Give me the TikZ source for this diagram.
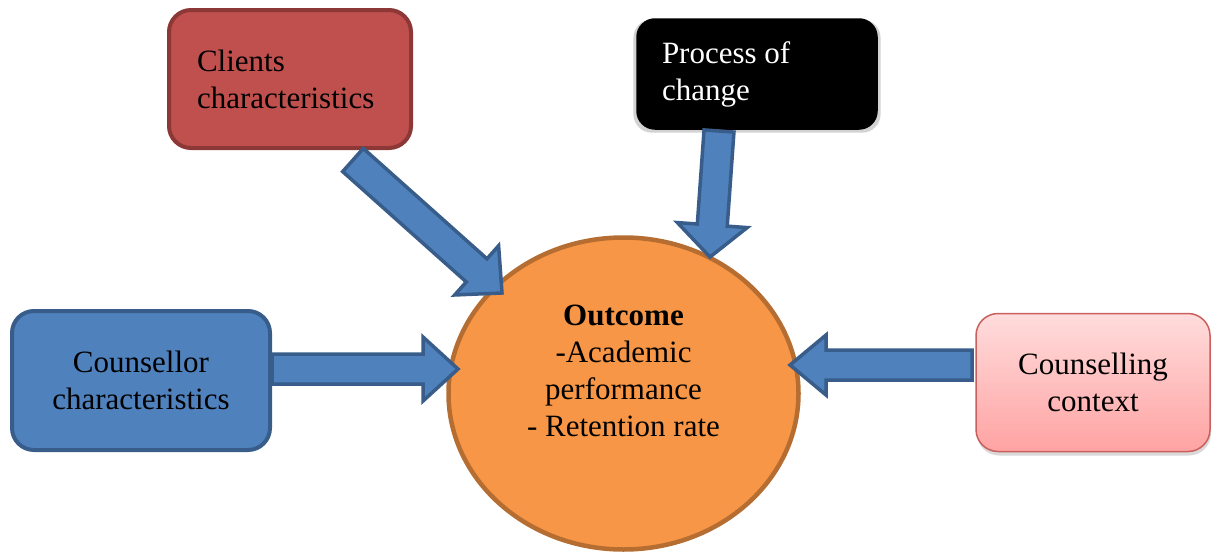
\documentclass[tikz,border=0pt]{standalone}
\usepackage{fontspec}
\setmainfont{Liberation Serif}
\usetikzlibrary{calc,shapes.geometric,shadows}

\definecolor{accblue}{HTML}{4F81BD}
\definecolor{accblueline}{HTML}{385D8A}
\definecolor{accred}{HTML}{C0504D}
\definecolor{accredline}{HTML}{8C3836}
\definecolor{accorange}{HTML}{F79646}
\definecolor{accorangeline}{HTML}{B66D31}
\definecolor{pinktop}{HTML}{FFDCDC}
\definecolor{pinkbottom}{HTML}{FFA3A3}
\definecolor{pinkline}{HTML}{C9605D}

% block arrow: #1 start, #2 tip, #3 half shaft width, #4 half head width, #5 head length
\newcommand\blockarr[5]{%
  \coordinate (#1-base) at ($(#2)!#5!(#1)$);
  \draw[fatarrow]
    ($(#1)!#3!90:(#2)$) -- ($(#1-base)!#3!90:(#2)$) -- ($(#1-base)!#4!90:(#2)$)
    -- (#2)
    -- ($(#1-base)!#4!-90:(#2)$) -- ($(#1-base)!#3!-90:(#2)$) -- ($(#1)!#3!-90:(#2)$)
    -- cycle;}

\begin{document}
\begin{tikzpicture}[x=1pt, y=-1pt,
  every node/.style={font=\fontsize{31}{37}\selectfont, inner sep=0pt},
  card/.style={rectangle, rounded corners=22pt, line width=4pt},
  fatarrow/.style={fill=accblue, draw=accblueline, line width=3.5pt, line join=miter},
  outcomestyle/.style={ellipse, fill=accorange, draw=accorangeline, line width=4.5pt,
    minimum width=350pt, minimum height=312pt}]
  \useasboundingbox (0,0) rectangle (1212,554);

  % factor boxes
  \node[card, fill=accred, draw=accredline, minimum width=242pt, minimum height=138pt,
        text width=186pt, align=left] (clients) at (290,79) {Clients\\characteristics};
  \node[card, rounded corners=18pt, fill=black, draw=black, line width=1.5pt,
        minimum width=240pt, minimum height=110pt, text width=190pt, align=flush left,
        text=white, yshift=-3pt,
        drop shadow={shadow xshift=0pt, shadow yshift=-2pt, opacity=.35, shadow scale=1.03}]
        (process) at (757,71) {Process of\\change};
  \node[card, fill=accblue, draw=accblueline, minimum width=258pt, minimum height=139pt,
        align=center] (counsellor) at (141,380.5) {Counsellor\\characteristics};
  \node[card, top color=pinktop, bottom color=pinkbottom, draw=pinkline, line width=1.5pt,
        minimum width=234pt, minimum height=138pt, align=center,
        drop shadow={shadow xshift=1pt, shadow yshift=-4pt, opacity=.3}]
        (context) at (1093,382.5) {Counselling\\context};

  % central outcome
  \node[outcomestyle, label={[align=center, yshift=23pt]center:{\textbf{Outcome}\\-Academic\\performance\\- Retention rate}}]
        (outcome) at (623.5,393.5) {};

  % arrow ends
  \coordinate (ca) at (353,160);
  \coordinate (cb) at (502,293);
  \coordinate (pa) at (719,131);
  \coordinate (pb) at (710,257);
  \coordinate (la) at (272,369);
  \coordinate (lb) at (458,369);
  \coordinate (ra) at (972,365);
  \coordinate (rb) at (790,365);

  \blockarr{ca}{cb}{15.5pt}{33pt}{34pt}
  \blockarr{pa}{pb}{15pt}{35pt}{32pt}
  \blockarr{la}{lb}{15pt}{32pt}{35pt}
  \blockarr{ra}{rb}{15pt}{30pt}{36pt}
\end{tikzpicture}
\end{document}
